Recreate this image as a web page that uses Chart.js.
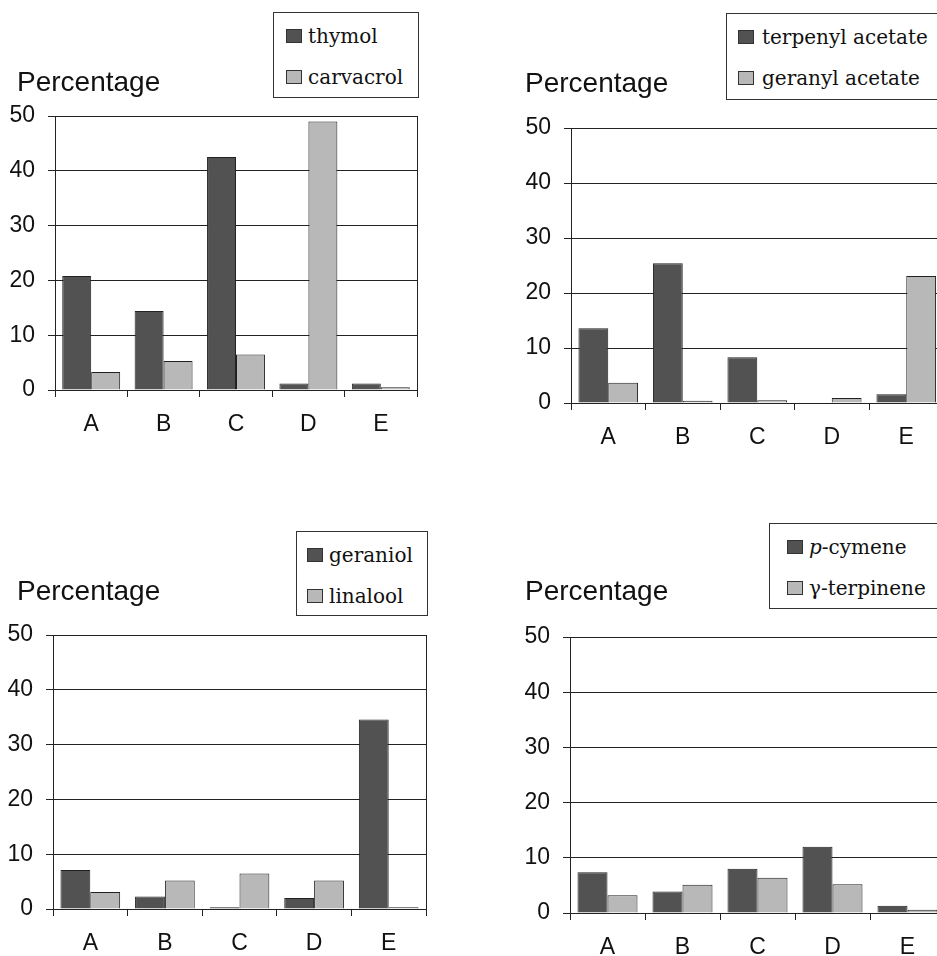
<!DOCTYPE html>
<html>
<head>
<meta charset="utf-8">
<script src="https://cdn.jsdelivr.net/npm/chart.js@4"></script>
<style>
  html, body { margin: 0; padding: 0; width: 937px; height: 956px; overflow: hidden; background: #fff; }
  canvas { position: absolute; }
  .ytitle { position: absolute; font: 28px "Liberation Sans", Arial, sans-serif; line-height: 28px; color: #111; white-space: nowrap; }
  .legend { position: absolute; border: 1px solid #333; background: #fff; box-sizing: border-box; }
  .legend .row { position: absolute; font: 20px "DejaVu Serif", serif; line-height: 24px; white-space: nowrap; color: #111; }
  .legend .sw { display: inline-block; width: 16px; height: 14px; border: 1px solid #333; box-sizing: border-box; }
</style>
</head>
<body>
<canvas id="c1" width="470" height="470" style="left:0;top:0"></canvas>
<canvas id="c2" width="480" height="470" style="left:470px;top:0"></canvas>
<canvas id="c3" width="470" height="478" style="left:0;top:478px"></canvas>
<canvas id="c4" width="480" height="478" style="left:470px;top:478px"></canvas>

<script>
// データ (percent)
const categories = ['A', 'B', 'C', 'D', 'E'];
const yTicks = [0, 10, 20, 30, 40, 50];
const yTitle = 'Percentage';

const thymol = [20.8, 14.4, 42.5, 1.2, 1.2];
const carvacrol = [3.3, 5.3, 6.5, 49.0, 0.5];

const terpenylAcetate = [13.6, 25.4, 8.3, 0, 1.6];
const geranylAcetate = [3.7, 0.4, 0.5, 0.9, 23.1];

const geraniol = [7.1, 2.3, 0.3, 2.0, 34.6];
const linalool = [3.1, 5.2, 6.5, 5.2, 0.3];

const pCymene = [7.4, 3.9, 8.0, 12.0, 1.3];
const gammaTerpinene = [3.2, 5.1, 6.4, 5.2, 0.6];

const darkColor = '#525252';
const lightColor = '#b8b8b8';

// 4つのパネルの配置 (xHeight: room below the axis for the A..E labels)
const panels = [
    { id: 'c1', yWidth: 55, xHeight: 80, pad: { left: 0, top: 116, right: 53, bottom: 0 },
      names: ['thymol', 'carvacrol'], a: thymol, b: carvacrol,
      title: { left: 17, top: 68 },
      legend: { left: 273, top: 12, width: 146, height: 86, sw: 13, tx: 35 } },
    { id: 'c2', yWidth: 101, xHeight: 67, pad: { left: 0, top: 128, right: 6.5, bottom: 0 },
      names: ['terpenyl acetate', 'geranyl acetate'], a: terpenylAcetate, b: geranylAcetate,
      title: { left: 525, top: 69 },
      legend: { left: 726, top: 13, width: 260, height: 87, sw: 12, tx: 36 } },
    { id: 'c3', yWidth: 53, xHeight: 47, pad: { left: 0, top: 157, right: 44, bottom: 0 },
      names: ['geraniol', 'linalool'], a: geraniol, b: linalool,
      title: { left: 17, top: 577 },
      legend: { left: 296, top: 531, width: 132, height: 85, sw: 11, tx: 33 } },
    { id: 'c4', yWidth: 100, xHeight: 43, pad: { left: 0, top: 159, right: 5, bottom: 0 },
      names: ['p-cymene', 'γ-terpinene'], a: pCymene, b: gammaTerpinene,
      title: { left: 525, top: 577 },
      legend: { left: 769, top: 523, width: 220, height: 86, sw: 18, tx: 40 } }
];

// プロット右端の縦線
const rightEdge = {
    id: 'rightEdge',
    afterDraw(chart) {
        const { ctx, chartArea } = chart;
        const x = Math.round(chartArea.right) + 0.5;
        ctx.save();
        ctx.strokeStyle = '#222';
        ctx.lineWidth = 1;
        ctx.beginPath();
        ctx.moveTo(x, chartArea.top);
        ctx.lineTo(x, chartArea.bottom + 4);
        ctx.stroke();
        ctx.restore();
    }
};

const tickFont = { family: '"Liberation Sans", Arial, sans-serif', size: 23 };

function addTitle(p) {
    const div = document.createElement('div');
    div.className = 'ytitle';
    div.style.left = p.title.left + 'px';
    div.style.top = p.title.top + 'px';
    div.innerText = yTitle;
    document.body.appendChild(div);
}

function addLegend(p) {
    const L = p.legend;
    const box = document.createElement('div');
    box.className = 'legend';
    box.style.left = L.left + 'px';
    box.style.top = L.top + 'px';
    box.style.width = L.width + 'px';
    box.style.height = L.height + 'px';
    [darkColor, lightColor].forEach((color, i) => {
        const row = document.createElement('div');
        row.className = 'row';
        row.style.left = (L.sw - 1) + 'px';
        row.style.top = (i === 0 ? 11 : 52) + 'px';
        const sw = document.createElement('span');
        sw.className = 'sw';
        sw.style.background = color;
        const lbl = document.createElement('span');
        lbl.style.marginLeft = (L.tx - L.sw - 16) + 'px';
        lbl.innerHTML = p.names[i].replace(/^p-/, '<i>p</i>-');
        row.appendChild(sw);
        row.appendChild(lbl);
        box.appendChild(row);
    });
    document.body.appendChild(box);
}

function drawPanel(p) {
    const ctx = document.getElementById(p.id).getContext('2d');
    new Chart(ctx, {
        type: 'bar',
        data: {
            labels: categories,
            datasets: [
                { label: p.names[0], data: p.a, backgroundColor: darkColor },
                { label: p.names[1], data: p.b, backgroundColor: lightColor }
            ].map(d => Object.assign(d, {
                borderColor: '#222', borderWidth: 1,
                categoryPercentage: 0.8, barPercentage: 1.0
            }))
        },
        options: {
            responsive: false,
            animation: false,
            devicePixelRatio: 1,
            layout: { padding: p.pad },
            plugins: { legend: { display: false }, tooltip: { enabled: false } },
            scales: {
                x: {
                    grid: { offset: true, drawOnChartArea: false, color: '#222', tickLength: 7 },
                    border: { color: '#222' },
                    ticks: { font: tickFont, color: '#111', padding: 14 },
                    afterFit: s => { s.height = p.xHeight; }
                },
                y: {
                    min: yTicks[0],
                    max: yTicks[yTicks.length - 1],
                    ticks: { stepSize: yTicks[1] - yTicks[0], font: tickFont, color: '#111', padding: 13 },
                    grid: { color: '#222', tickLength: 7 },
                    border: { color: '#222' },
                    afterFit: s => { s.width = p.yWidth; }
                }
            }
        },
        plugins: [rightEdge]
    });
}

panels.forEach(p => {
    drawPanel(p);
    addTitle(p);
    addLegend(p);
});
</script>
</body>
</html>
